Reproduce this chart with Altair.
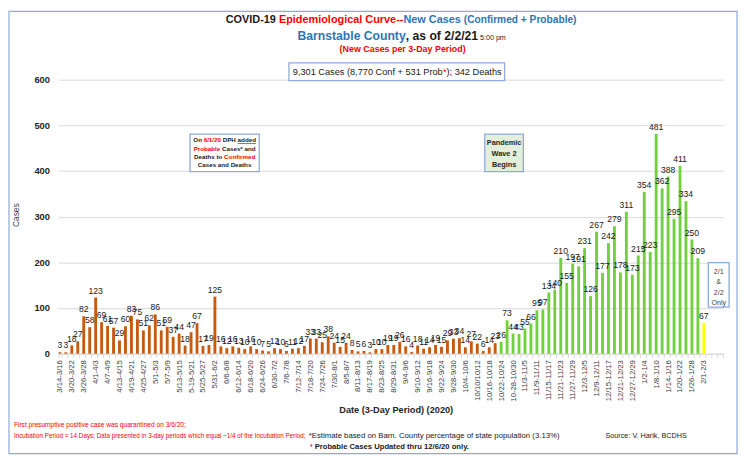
import altair as alt
import pandas as pd
import json

# ---------------- data ----------------
periods = [
    "3/14-3/16", "3/17-3/19", "3/20-3/22", "3/23-3/25", "3/26-3/28", "3/29-3/31",
    "4/1-4/3", "4/4-4/6", "4/7-4/9", "4/10-4/12", "4/13-4/15", "4/16-4/18",
    "4/19-4/21", "4/22-4/24", "4/25-4/27", "4/28-4/30", "5/1-5/3", "5/4-5/6",
    "5/7-5/9", "5/10-5/12", "5/13-5/15", "5/16-5/18", "5-19-5/21", "5/22-5/24",
    "5/25-5/27", "5/28-5/30", "5/31-6/2", "6/3-6/5", "6/6-6/8", "6/9-6/11",
    "6/12-6/14", "6/15-6/17", "6/18-6/20", "6/21-6/23", "6/24-6/26", "6/27-6/29",
    "6/30-7/2", "7/3-7/5", "7/6-7/8", "7/9-7/11", "7/12-7/14", "7/15-7/17",
    "7/18-7/20", "7/21-7/23", "7/24-7/26", "7/27-7/29", "7/30-8/1", "8/2-8/4",
    "8/5-8/7", "8/8-8/10", "8/11-8/13", "8/14-8/16", "8/17-8/19", "8/20-8/22",
    "8/23-8/25", "8/26-8/28", "8/29-8/31", "9/1-9/3", "9/4-9/6", "9/7-9/9",
    "9/10-9/12", "9/13-9/15", "9/16-9/18", "9/19-9/21", "9/22-9/24", "9/25-9/27",
    "9/28-9/30", "10/1-10/3", "10/4-10/6", "10/7-10/9", "10/10/10/12", "10/13-10/15",
    "10/16-10/18", "10/19-10/21", "10/22-10/24", "10/25-10/27", "10-28-10/30", "10/31-11/2",
    "11/3-11/5", "11/6-11/8", "11/9-11/11", "11/12-11/14", "11/15-11/17", "11/18-11/20",
    "11/21-11/23", "11/24-11/26", "11/27-11/29", "11/30-12/2", "12/3-12/5", "12/6-12/8",
    "12/9-12/11", "12/12-12/14", "12/15-12/17", "12/18-12/20", "12/21-12/23", "12/24-12/26",
    "12/27-12/29", "12/30-1/1", "1/2-1/4", "1/5-1/7", "1/8-1/10", "1/11-1/13",
    "1/14-1/16", "1/17-1/19", "1/20-1/22", "1/23-1/25", "1/26-1/28", "1/29-1/31",
    "2/1-2/3",
]
empty_periods = ["2/4-2/6", "2/7-2/9", "2/10-2/12"]

new_cases = [
    3, 3, 18, 27, 82, 58, 123, 69, 61, 57, 29, 60, 83, 75, 51, 62, 86, 51,
    59, 37, 44, 18, 47, 67, 17, 19, 125, 16, 12, 16, 13, 10, 16, 10, 7, 5,
    12, 10, 6, 11, 12, 17, 33, 33, 25, 38, 24, 15, 24, 8, 5, 6, 3, 10,
    10, 19, 19, 26, 16, 4, 18, 11, 14, 19, 15, 29, 33, 34, 14, 27, 22, 6,
    14, 23, 26, 73, 44, 43, 55, 66, 95, 97, 134, 140, 210, 155, 197, 191,
    231, 126, 267, 177, 242, 279, 178, 311, 173, 215, 354, 223, 481, 362, 388, 295,
    411, 334, 250, 209, 67,
]
phase = ["Wave 1"] * 74 + ["Wave 2"] * 34 + ["Partial"]

phase_names = ["Wave 1", "Wave 2", "Partial"]
phase_colors = ["#c55a11", "#70d13c", "#ffff00"]
y_ticks = [0, 100, 200, 300, 400, 500, 600]

df = pd.DataFrame({"period": periods, "cases": new_cases, "phase": phase})

# ---------------- layout helpers ----------------
FONT = "Liberation Sans"
OX, OY = 59, 78          # page position of the plot origin
PW, PH = 672, 277        # plot size

_REG = [278, 278, 355, 556, 556, 889, 667, 191, 333, 333, 389, 584, 278, 333, 278, 278] + [556] * 10 + \
       [278, 278, 584, 584, 584, 556, 1015,
        667, 667, 722, 722, 667, 611, 778, 722, 278, 500, 667, 556, 833, 722, 778, 667, 778, 722, 667, 611,
        722, 667, 944, 667, 667, 611, 278, 278, 278, 469, 556, 333,
        556, 556, 500, 556, 556, 278, 556, 556, 222, 222, 500, 222, 833, 556, 556, 556, 556, 333, 500, 278,
        556, 500, 722, 500, 500, 500, 334, 260, 334, 584]
_BLD = [278, 333, 474, 556, 556, 889, 722, 238, 333, 333, 389, 584, 278, 333, 278, 278] + [556] * 10 + \
       [333, 333, 584, 584, 584, 611, 975,
        722, 722, 722, 722, 667, 611, 778, 722, 278, 556, 722, 611, 833, 722, 778, 667, 778, 722, 667, 611,
        722, 667, 944, 667, 667, 611, 333, 278, 333, 584, 556, 333,
        556, 611, 556, 611, 556, 333, 611, 611, 278, 278, 556, 278, 889, 611, 611, 611, 611, 389, 556, 333,
        611, 556, 778, 556, 556, 500, 389, 280, 389, 584]


def units(s, bold):
    tab = _BLD if bold else _REG
    return sum(tab[ord(c) - 32] if 32 <= ord(c) < 127 else 556 for c in s)


def width(s, size, bold):
    return units(s, bold) * size / 1000.0


def size_for(s, w, bold):
    return w * 1000.0 / units(s, bold)


ONE = alt.Data(values=[{"k": 1}])


def txt(s, px, py, size, color, bold=False, align="left", baseline="alphabetic", angle=0):
    return alt.Chart(ONE).mark_text(
        text=s, align=align, baseline=baseline, font=FONT, fontSize=size,
        fontWeight="bold" if bold else "normal", color=color, angle=angle,
    ).encode(x=alt.value(px - OX), y=alt.value(py - OY))


def rich(segments, px, py, align="center"):
    """segments: (text, color, size, bold); px = page x of centre (or left)."""
    ws = [width(t, s, b) for t, c, s, b in segments]
    total = sum(ws)
    x = px - total / 2 if align == "center" else px
    layers, spans = [], []
    for (t, c, s, b), w in zip(segments, ws):
        lead = len(t) - len(t.lstrip(" "))
        xs = x + width(" " * lead, s, b)
        body = t.strip(" ")
        layers.append(txt(body, xs, py, s, c, b))
        spans.append((xs, xs + width(body, s, b)))
        x += w
    return layers, spans


def box(x1, y1, x2, y2, fill="white", stroke="#8eaadb", sw=1.3):
    return alt.Chart(ONE).mark_rect(fill=fill, stroke=stroke, strokeWidth=sw).encode(
        x=alt.value(x1 - OX), x2=alt.value(x2 - OX), y=alt.value(y1 - OY), y2=alt.value(y2 - OY))


def hline(x1, x2, y, color="#262626", sw=0.7):
    return alt.Chart(ONE).mark_rule(color=color, strokeWidth=sw).encode(
        x=alt.value(x1 - OX), x2=alt.value(x2 - OX), y=alt.value(y - OY))


RED = "#ff0000"
BLUE = "#2e75b6"
BLK = "#1a1a1a"
GRY = "#404040"

# ---------------- main chart ----------------
shown = periods[::2]
label_expr = "indexof(" + json.dumps(shown) + ", datum.value) >= 0 ? datum.value : ''"

xenc = alt.X(
    "period:N",
    scale=alt.Scale(domain=periods + empty_periods, paddingInner=0.52, paddingOuter=0),
    axis=alt.Axis(
        title=None, labelAngle=-90, labelExpr=label_expr, labelFont=FONT, labelFontSize=7.8,
        labelColor=GRY, labelPadding=2, tickBand="extent", tickSize=4, tickColor="#d9d9d9",
        domainColor="#d9d9d9", labelOverlap=False,
    ),
)
yenc = alt.Y(
    "cases:Q",
    scale=alt.Scale(domain=[0, 600], nice=False),
    axis=alt.Axis(
        title=None, values=y_ticks, grid=True, gridColor="#d9d9d9", domain=False, ticks=False,
        tickSize=0, labelPadding=9, labelFont=FONT, labelFontSize=9.5, labelFontWeight="bold",
        labelColor="#262626",
    ),
)

base = alt.Chart(df)
bars = base.mark_bar().encode(
    x=xenc, y=yenc,
    color=alt.Color("phase:N", scale=alt.Scale(domain=phase_names, range=phase_colors), legend=None),
)
values = base.mark_text(baseline="bottom", dy=-2, font=FONT, fontSize=8.7, color="#1a1a1a").encode(
    x=xenc, y=yenc, text="cases:Q")

layers = []
# outer frame
layers.append(box(9, 9, 745, 456, fill="transparent", stroke="#8eaadb", sw=1.2))

# title lines
l1, _ = rich([("COVID-19 ", BLK, 11, True), ("Epidemiological Curve--", RED, 11, True),
              ("New Cases", BLUE, 11, True), (" (Confirmed + Probable)", BLUE, 10.3, True)], 405.5, 21)
l2, _ = rich([("Barnstable County", BLUE, 12.3, True), (", as of 2/2/21", BLK, 12.3, True),
              (" 5:00 pm", BLK, 7.2, False)], 406, 37.5)
l3, _ = rich([("(New Cases per 3-Day Period)", RED, 9.0, True)], 407, 50.5)
layers += l1 + l2 + l3

# totals box
layers.append(box(292, 61, 510, 79, stroke="#8eaadb"))
lt, _ = rich([("9,301 Cases (8,770 Conf + 531 Prob", BLK, 9.3, False), ("*", RED, 9.3, False),
              ("); 342 Deaths", BLK, 9.3, False)], 401.5, 73.3)
layers += lt

layers += [bars, values]

# DPH annotation
layers.append(box(192, 133, 262, 171, stroke="#8eaadb"))
a1, sp = rich([("On ", BLK, 6.3, True), ("6/1/20", RED, 6.3, True), (" DPH ", BLK, 6.3, True),
               ("added", BLK, 6.3, True)], 227, 141.5)
a2, _ = rich([("Probable", RED, 6.3, True), (" Cases* and", BLK, 6.3, True)], 227, 149.8)
a3, _ = rich([("Deaths to ", BLK, 6.3, True), ("Confirmed", RED, 6.3, True)], 227, 158.1)
a4, _ = rich([("Cases and Deaths", BLK, 6.3, True)], 227, 166.4)
layers += a1 + a2 + a3 + a4
layers.append(hline(sp[3][0], sp[3][1], 142.6, BLK, 0.6))

# wave 2 annotation
layers.append(box(490, 133, 529, 171, fill="#e2efda", stroke="#8eaadb"))
for s, yy in [("Pandemic", 143.8), ("Wave 2", 154.8), ("Begins", 165.8)]:
    layers.append(txt(s, 509.5, yy, 7.4, "#262626", True, align="center"))

# partial-period annotation
layers.append(box(716, 263, 737, 308, stroke="#8eaadb"))
for s, yy in [("2/1", 274.5), ("&", 285), ("2/2", 295.5), ("Only", 305.5)]:
    layers.append(txt(s, 726.5, yy, 7.2, GRY, False, align="center"))

# axis titles
layers.append(txt("Cases", 16, 215, 8.5, GRY, False, align="center", baseline="middle", angle=270))
layers.append(txt("Date (3-Day Period) (2020)", 400.5, 414.5, 9.3, "#262626", True, align="center"))

# footnotes
fA = "First presumptive positive case was quarantined on 3/6/20;"
fB = "Incubation Period = 14 Days; Data presented in 3-day periods which equal ~1/4 of the Incubation Period;"
fC = "*Estimate based on Barn. County percentage of state population (3.13%)"
fD = "Probable Cases Updated thru 12/6/20 only."
fS = "Source: V. Harik, BCDHS"
layers.append(txt(fA, 14, 429.5, size_for(fA, 174, False), RED))
layers.append(txt(fB, 14, 440.5, size_for(fB, 295, False), RED))
layers.append(txt(fC, 312, 440.5, size_for(fC, 254, False), BLK))
layers.append(txt("*", 313, 451.5, 8, RED))
layers.append(txt(fD, 318, 451.5, size_for(fD, 157, True), BLK, True))
layers.append(txt(fS, 612, 440.5, size_for(fS, 83, False), BLK))

chart = alt.layer(*layers).properties(
    width=PW, height=PH,
    autosize=alt.AutoSizeParams(type="none"),
    padding={"left": OX - 8, "top": OY - 8, "right": 740 - (OX - 8) - PW, "bottom": 450 - (OY - 8) - PH},
    background="white",
).configure_view(strokeWidth=0)

chart.save("out.html", embed_options={"renderer": "svg", "actions": False})
